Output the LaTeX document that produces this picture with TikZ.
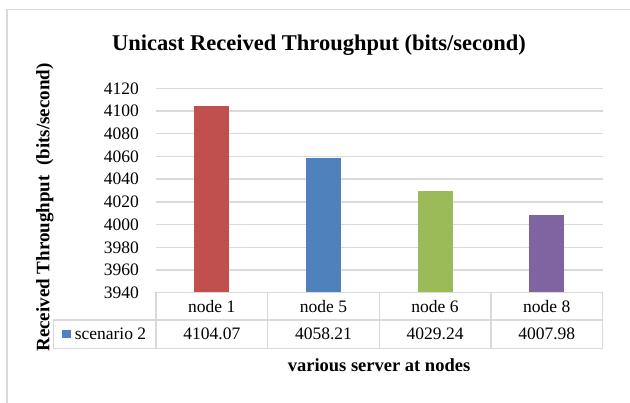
\documentclass[tikz,border=0pt]{standalone}
\usepackage{fontspec}
\setmainfont{Liberation Serif}
\usetikzlibrary{positioning}

\definecolor{gridgray}{HTML}{D9D9D9}
\definecolor{barred}{HTML}{C0504D}
\definecolor{barblue}{HTML}{4F81BD}
\definecolor{bargreen}{HTML}{9BBB59}
\definecolor{barpurple}{HTML}{8064A2}

\begin{document}
\begin{tikzpicture}[
  x=1pt,y=-1pt,
  every node/.style={inner sep=0pt,font=\fontsize{17.5}{21}\selectfont},
  grid line/.style={draw=gridgray,line width=1.4pt},
  head node/.style={font=\fontsize{22.5}{27}\selectfont\bfseries},
  axis node/.style={font=\fontsize{18.5}{22}\selectfont\bfseries},
  cell/.style={draw=gridgray,line width=1.4pt,minimum width=111.6pt},
  ]
  \useasboundingbox (0,0) rectangle (630,403);
  % chart frame
  \draw[grid line] (7,403) -- (7,9.5) -- (630,9.5);
  \node[head node](title) at (319,45){Unicast Received Throughput (bits/second)};
  \node[axis node,rotate=90,font=\fontsize{19}{22}\selectfont\bfseries](ylab) at (45,207.5){Received Throughput\ \ (bits/second)};
  % gridlines and ticks
  \foreach \v [count=\i] in {3940,3960,...,4120}{
    \pgfmathsetmacro\yy{292.7-(\v-3940)*1.1356}
    \node[anchor=east](t\i) at (139,\yy){\v};
    \draw[grid line] (156,\yy) -- (602.5,\yy);
  }
  % bars
  \foreach \val/\col [count=\i] in {4104.07/barred,4058.21/barblue,4029.24/bargreen,4007.98/barpurple}{
    \pgfmathsetmacro\xc{156+111.625*(\i-0.5)}
    \pgfmathsetmacro\yt{292.7-(\val-3940)*1.1356}
    \fill[\col] (\xc-17.5,\yt) rectangle (\xc+17.5,292.7);
  }
  % data table
  \foreach \n/\val [count=\i] in {1/4104.07,5/4058.21,6/4029.24,8/4007.98}{
    \pgfmathsetmacro\xc{156+111.625*(\i-0.5)}
    \node[cell,minimum height=27.3pt](h\i) at (\xc,306.35){node \n};
    \node[cell,minimum height=28.3pt](v\i) at (\xc,334.15){\val};
  }
  \node[cell,minimum width=102.7pt,minimum height=28.3pt](lab) at (104.65,334.15){};
  \node(s2) at (110.5,334.15){scenario 2};
  \node[fill=barblue,minimum size=8.6pt,left=3.4pt of s2](key){};
  \node[axis node](xlab) at (379,365){various server at nodes};
\end{tikzpicture}
\end{document}
